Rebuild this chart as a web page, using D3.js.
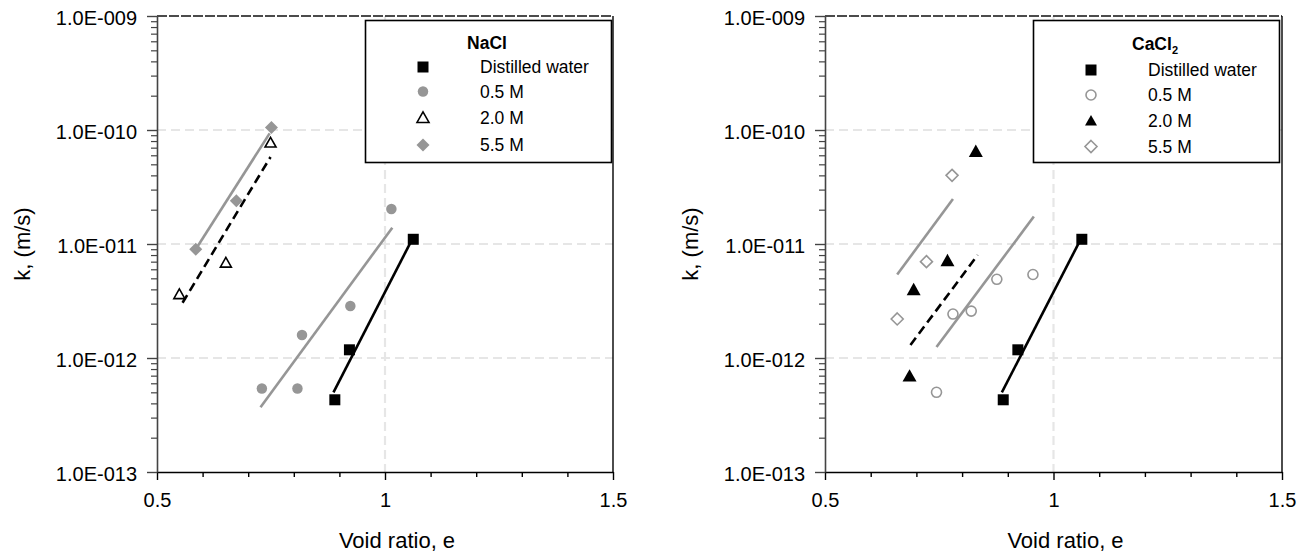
<!DOCTYPE html>
<html>
<head>
<meta charset="utf-8">
<script src="https://cdn.jsdelivr.net/npm/d3@7"></script>
<style>
  html, body { margin: 0; padding: 0; background: #fff; }
  svg { display: block; font-family: "Liberation Sans", Arial, Helvetica, sans-serif; }
</style>
</head>
<body>
<svg id="chart" width="1298" height="554"></svg>
<script>
// ---------------- data ----------------
const voidRatioTicks = [0.5, 1, 1.5];
const voidRatioTickLabels = ["0.5", "1", "1.5"];
const kTicks = [1e-13, 1e-12, 1e-11, 1e-10, 1e-9];
const kTickLabels = ["1.0E-013", "1.0E-012", "1.0E-011", "1.0E-010", "1.0E-009"];
const seriesNames = ["Distilled water", "0.5 M", "2.0 M", "5.5 M"];

// measured points: [void ratio e, hydraulic conductivity k (m/s)]
const distilledWater = [[1.062, 1.10e-11], [0.922, 1.18e-12], [0.890, 4.3e-13]];
const nacl05 = [[1.014, 2.03e-11], [0.924, 2.86e-12], [0.818, 1.59e-12], [0.730, 5.4e-13], [0.808, 5.4e-13]];
const nacl20 = [[0.749, 7.7e-11], [0.651, 6.8e-12], [0.549, 3.6e-12]];
const nacl55 = [[0.751, 1.05e-10], [0.674, 2.4e-11], [0.585, 9.0e-12]];
const cacl05 = [[0.876, 4.9e-12], [0.955, 5.4e-12], [0.780, 2.43e-12], [0.820, 2.58e-12], [0.744, 5.0e-13]];
const cacl20 = [[0.830, 6.45e-11], [0.768, 7.1e-12], [0.694, 3.95e-12], [0.685, 6.9e-13]];
const cacl55 = [[0.778, 4.0e-11], [0.722, 7.0e-12], [0.658, 2.2e-12]];

// trend lines: [start, end] as [e, k]
const waterTrend = [[0.887, 5.0e-13], [1.062, 1.15e-11]];
const nacl05Trend = [[0.727, 3.7e-13], [1.016, 1.39e-11]];
const nacl20Trend = [[0.556, 3.05e-12], [0.749, 5.8e-11]];
const nacl55Trend = [[0.585, 9.0e-12], [0.747, 9.35e-11]];
const cacl05Trend = [[0.744, 1.25e-12], [0.957, 1.74e-11]];
const cacl20Trend = [[0.687, 1.3e-12], [0.834, 8.0e-12]];
const cacl55Trend = [[0.658, 5.4e-12], [0.780, 2.48e-11]];

// ---------------- styles ----------------
const GRAY = "#969696";
const FONT_TICK = 20, FONT_TITLE = 22, FONT_LEGEND = 17.5;

// marker path builders (centred on 0,0)
const markerPath = {
  square: s => `M${-s/2},${-s/2}h${s}v${s}h${-s}Z`,
  circle: s => { const r = s / 2; return `M${r},0A${r},${r} 0 1,1 ${-r},0A${r},${r} 0 1,1 ${r},0Z`; },
  triangle: s => { const h = s * 0.88; return `M0,${-h*0.58}L${s/2},${h*0.42}L${-s/2},${h*0.42}Z`; },
  diamond: s => `M0,${-s/2}L${s/2},0L0,${s/2}L${-s/2},0Z`
};

const panels = [
  {
    left: 157, right: 613,
    title: "NaCl", sub: null,
    titleY: 48.5, rowsY: [67, 91.5, 118, 145],
    series: [
      { data: distilledWater, trend: waterTrend, shape: "square", size: 11, fill: "#000", stroke: "none", sw: 0, line: "#000", dash: null },
      { data: nacl05, trend: nacl05Trend, shape: "circle", size: 10.5, fill: GRAY, stroke: "none", sw: 0, line: GRAY, dash: null },
      { data: nacl20, trend: nacl20Trend, shape: "triangle", size: 11, fill: "#fff", stroke: "#000", sw: 1.6, line: "#000", dash: "9,5" },
      { data: nacl55, trend: nacl55Trend, shape: "diamond", size: 13, fill: GRAY, stroke: "none", sw: 0, line: GRAY, dash: null }
    ]
  },
  {
    left: 825, right: 1282,
    title: "CaCl", sub: "2",
    titleY: 49.5, rowsY: [70, 95, 121, 146.5],
    series: [
      { data: distilledWater, trend: waterTrend, shape: "square", size: 11, fill: "#000", stroke: "none", sw: 0, line: "#000", dash: null },
      { data: cacl05, trend: cacl05Trend, shape: "circle", size: 10, fill: "#fff", stroke: GRAY, sw: 1.6, line: GRAY, dash: null },
      { data: cacl20, trend: cacl20Trend, shape: "triangle", size: 14, fill: "#000", stroke: "none", sw: 0, line: "#000", dash: "9,5" },
      { data: cacl55, trend: cacl55Trend, shape: "diamond", size: 12, fill: "#fff", stroke: GRAY, sw: 1.6, line: GRAY, dash: null }
    ]
  }
];

const TOP = 16, BOTTOM = 472;
const svg = d3.select("#chart");

panels.forEach(p => {
  const x = d3.scaleLinear().domain([0.5, 1.5]).range([p.left, p.right]);
  const y = d3.scaleLog().domain([1e-13, 1e-9]).range([BOTTOM, TOP]);
  const g = svg.append("g");

  // dashed light gridlines
  const grid = g.append("g").attr("stroke", "#e6e6e6").attr("stroke-width", 2.2).attr("stroke-dasharray", "9,5");
  grid.selectAll("line.h").data(kTicks.slice(1, -1)).join("line")
    .attr("x1", p.left).attr("x2", p.right).attr("y1", d => y(d)).attr("y2", d => y(d));
  grid.selectAll("line.v").data(voidRatioTicks.slice(1, -1)).join("line")
    .attr("x1", d => x(d)).attr("x2", d => x(d)).attr("y1", TOP).attr("y2", BOTTOM);

  // right and top borders
  g.append("line").attr("x1", p.right).attr("x2", p.right).attr("y1", TOP).attr("y2", BOTTOM)
    .attr("stroke", "#000").attr("stroke-width", 1.4);
  g.append("line").attr("x1", p.left).attr("x2", p.right).attr("y1", TOP).attr("y2", TOP)
    .attr("stroke", "#111").attr("stroke-width", 1.6).attr("stroke-dasharray", "10,2");

  // x axis: major and minor ticks
  const xMinor = d3.range(0.6, 1.5, 0.1).filter(v => Math.abs(v - 1) > 1e-6);
  const xAxisMinor = g.append("g").attr("transform", `translate(0,${BOTTOM})`)
    .call(d3.axisBottom(x).tickValues(xMinor).tickSize(5).tickSizeOuter(0).tickFormat(""));
  xAxisMinor.select(".domain").remove();
  const xAxis = g.append("g").attr("transform", `translate(0,${BOTTOM})`)
    .call(d3.axisBottom(x).tickValues(voidRatioTicks).tickSize(8).tickSizeOuter(0)
      .tickFormat((d, i) => voidRatioTickLabels[i]));
  xAxis.select(".domain").attr("stroke", "#000").attr("stroke-width", 1.4);
  xAxis.selectAll(".tick line").attr("stroke-width", 1.4);
  xAxis.selectAll(".tick text").attr("font-size", FONT_TICK).attr("fill", "#000")
    .attr("font-family", "Liberation Sans, Arial, sans-serif")
    .attr("y", 35).attr("dy", 0);
  xAxisMinor.selectAll(".tick line").attr("stroke-width", 1.4);

  // y axis: log minor ticks and decade ticks
  const yMinor = [];
  kTicks.slice(0, -1).forEach(d => { for (let m = 2; m <= 9; m++) yMinor.push(d * m); });
  const yAxisMinor = g.append("g").attr("transform", `translate(${p.left},0)`)
    .call(d3.axisLeft(y).tickValues(yMinor).tickSize(6).tickSizeOuter(0).tickFormat(""));
  yAxisMinor.select(".domain").remove();
  yAxisMinor.selectAll(".tick line").attr("stroke", "#444").attr("stroke-width", 1.2);
  const yAxis = g.append("g").attr("transform", `translate(${p.left},0)`)
    .call(d3.axisLeft(y).tickValues(kTicks).tickSize(10).tickPadding(10).tickSizeOuter(0)
      .tickFormat((d, i) => kTickLabels[i]));
  yAxis.select(".domain").attr("stroke", "#444").attr("stroke-width", 1.6);
  yAxis.selectAll(".tick line").attr("stroke", "#444").attr("stroke-width", 1.4);
  yAxis.selectAll(".tick text").attr("font-size", FONT_TICK).attr("fill", "#000")
    .attr("font-family", "Liberation Sans, Arial, sans-serif").attr("dy", "0.42em");

  // axis titles
  g.append("text").attr("x", (p.left + p.right) / 2 + 12).attr("y", 548)
    .attr("text-anchor", "middle").attr("font-size", FONT_TITLE).text("Void ratio, e");
  g.append("text").attr("transform", `translate(${p.left - 135},${(TOP + BOTTOM) / 2}) rotate(-90)`)
    .attr("text-anchor", "middle").attr("dy", "0.35em").attr("font-size", FONT_TITLE).text("k, (m/s)");

  // trend lines
  const line = d3.line().x(d => x(d[0])).y(d => y(d[1]));
  p.series.forEach(s => {
    g.append("path").attr("d", line(s.trend)).attr("fill", "none")
      .attr("stroke", s.line).attr("stroke-width", 2.6)
      .attr("stroke-dasharray", s.dash);
  });

  // markers
  p.series.forEach(s => {
    g.append("g").selectAll("path").data(s.data).join("path")
      .attr("transform", d => `translate(${x(d[0])},${y(d[1])})`)
      .attr("d", markerPath[s.shape](s.size))
      .attr("fill", s.fill).attr("stroke", s.stroke).attr("stroke-width", s.sw);
  });

  // legend
  const lg = g.append("g");
  lg.append("rect").attr("x", p.left + 208.5).attr("y", 20.5).attr("width", 246).attr("height", 142)
    .attr("fill", "#fff").attr("stroke", "#000").attr("stroke-width", 1.6);
  const title = lg.append("text").attr("x", p.left + 330).attr("y", p.titleY)
    .attr("text-anchor", "middle").attr("font-size", FONT_LEGEND).attr("font-weight", "bold").text(p.title);
  if (p.sub) {
    title.append("tspan").attr("font-size", 11).attr("dy", 4).text(p.sub);
  }
  p.series.forEach((s, i) => {
    const cy = p.rowsY[i];
    lg.append("path").attr("transform", `translate(${p.left + 266},${cy})`)
      .attr("d", markerPath[s.shape](s.shape === "triangle" ? 12 : s.size))
      .attr("fill", s.fill).attr("stroke", s.stroke).attr("stroke-width", s.sw);
    lg.append("text").attr("x", p.left + 323).attr("y", cy + 6.2)
      .attr("font-size", FONT_LEGEND).text(seriesNames[i]);
  });
});
</script>
</body>
</html>
